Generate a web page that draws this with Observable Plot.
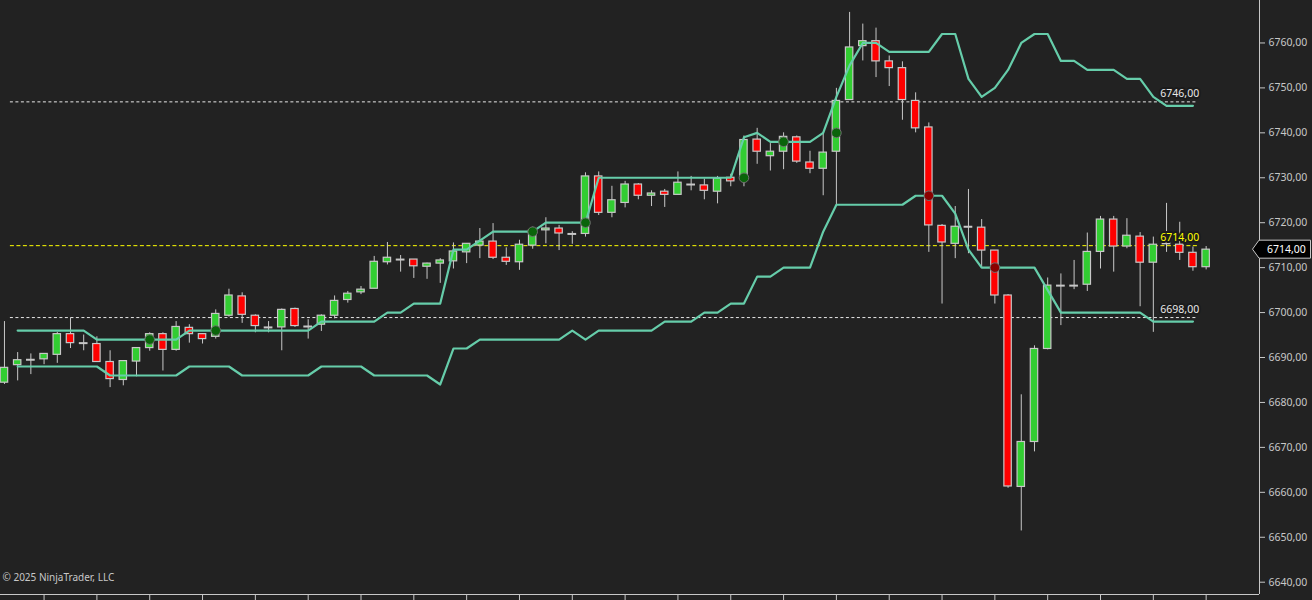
<!DOCTYPE html>
<html>
<head>
<meta charset="utf-8">
<script src="https://cdn.jsdelivr.net/npm/d3@7"></script>
<script src="https://cdn.jsdelivr.net/npm/@observablehq/plot@0.6"></script>
<style>
html, body { margin: 0; padding: 0; background: #222222; }
#chart { width: 1312px; height: 600px; overflow: hidden; }
</style>
</head>
<body>
<div id="chart"></div>
<script>
// ---- OHLC per bar (bar index 0..91) ----
const opens = [6684.4,6688.3,6689.5,6689.6,6690.6,6695.2,6693.2,6693,6689,6685,
6689.1,6692.1,6695.2,6691.7,6696.6,6695.2,6694.6,6699.3,6703.6,6699.3,
6696.7,6696.7,6700.8,6696.9,6697.3,6699.3,6702.8,6704.5,6705.3,6711.2,
6711.8,6711.8,6710.2,6710.9,6711.4,6713.4,6714.9,6715.8,6712.2,6711.2,
6714.9,6718.3,6718.7,6717.5,6717.5,6730.3,6722.2,6724.4,6728.5,6726,
6726.9,6726.2,6728.5,6728.3,6726.9,6730,6730.3,6738.5,6734.8,6735.8,
6739,6733.4,6732,6735.8,6747.3,6759.3,6760.4,6755.9,6754.4,6747.1,
6741.2,6719.3,6715.3,6719.1,6718.9,6713.8,6703.8,6661.2,6671.2,6691.9,
6706,6706,6706.2,6713.5,6720.7,6714.7,6716.9,6711.1,6715.4,6715.1,
6713.3,6710.1];
const highs = [6698,6691.1,6690.8,6690.8,6695.6,6698.8,6695,6694.6,6691.5,6689.2,
6692.1,6695.5,6695.5,6698,6697.3,6695.3,6700.6,6705.2,6704.4,6699.5,
6698,6700.8,6701,6698.4,6699.5,6703.7,6704.7,6705.8,6712.5,6715.6,
6712.7,6711.8,6711,6712,6715.5,6715.3,6718.7,6719.8,6714.4,6716.1,
6719,6721.1,6719.4,6718,6731.1,6731.3,6728.1,6729.2,6728.7,6727.1,
6727.4,6731.3,6730.3,6729.7,6730.3,6730.8,6739.3,6741,6737.6,6740,
6739.3,6735.9,6740.1,6749.9,6766.8,6764.2,6763.3,6757.1,6755.8,6748.9,
6742.2,6719.6,6723.6,6727.4,6720.7,6713.8,6704,6681.7,6692.6,6707.7,
6708.6,6711.6,6717.7,6721.4,6721.4,6720.9,6717.8,6716.8,6724.3,6720.1,
6714.6,6714.7];
const lows = [6684,6684.8,6686.2,6688.4,6688.7,6692,6691.5,6689,6683.3,6683.7,
6685.7,6691.4,6687,6691.4,6693.2,6693,6694.1,6699,6697.6,6695.5,
6695.5,6691.5,6696.7,6694.1,6695.8,6698.6,6702.1,6704,6705.3,6710.6,
6709,6707.6,6707.4,6706.5,6709.7,6710.9,6712,6711.8,6710.5,6709.4,
6714.1,6715.3,6713.8,6715.2,6716.8,6721.6,6721.1,6723.3,6725.1,6723.6,
6723.4,6726.2,6727.1,6725.1,6724.2,6728,6728,6733,6731.5,6731.8,
6733.2,6730.9,6726,6723.9,6747.3,6756,6752.3,6750.3,6742.8,6740,
6713.4,6701.9,6712,6713.1,6710,6701.9,6660.9,6651.4,6669,6691.7,
6697.1,6705.1,6704.7,6709.7,6709,6714.2,6701.3,6695.6,6713.4,6711.6,
6709.2,6709.5];
const closes = [6687.7,6689.4,6689.5,6690.8,6695.2,6693.2,6693.2,6689,6685.2,6689.2,
6692.1,6695.2,6691.7,6696.8,6695.2,6694.1,6699.7,6703.8,6699.5,6697,
6696.7,6700.6,6697,6696.9,6699.3,6702.6,6704.2,6705.1,6711.3,6712.2,
6711.8,6710.3,6710.9,6711.6,6713.6,6715.3,6715.8,6712.2,6711.3,6715.1,
6718.3,6718.7,6717.6,6717.5,6730.3,6722.2,6725,6728.5,6726,6726.5,
6726.2,6728.9,6728.5,6727.1,6729.8,6729.2,6738.4,6735.8,6735.8,6739.1,
6733.6,6732,6735.6,6747.1,6759,6760.4,6755.9,6754.4,6747.3,6741,
6719.4,6715.6,6719.1,6719.1,6713.8,6703.8,6661.3,6671.2,6691.9,6706,
6706,6706,6713.5,6720.7,6714.7,6717.1,6711.1,6715.1,6715.4,6713.3,
6710.1,6714];

// ---- channel indicator (per bar) ----
const upperBand = [null,
6696,6696,6696,6696,6696,6696,
6694,6694,6694,6694,6694,6694,6694,
6696,6696,6696,6696,6696,6696,6696,6696,6696,6696,
6698,6698,6698,6698,6698,
6700,6700,
6702,6702,6702,
6714,6714,
6716,
6718,6718,6718,6718,
6720,6720,6720,6720,
6730,6730,6730,6730,6730,6730,6730,6730,6730,6730,6730,
6739,
6740,
6738,6738,6738,6738,
6740,
6748,
6755,
6760,6760,
6758,6758,6758,6758,
6762,6762,
6752,
6748,
6750,
6754,
6760,
6762,6762,
6756,6756,
6754,6754,6754,
6752,6752,
6748,
6746,6746,6746,
null];
const lowerBand = [null,
6688,6688,6688,6688,6688,6688,6688,
6686,6686,6686,6686,6686,6686,
6688,6688,6688,6688,
6686,6686,6686,6686,6686,6686,
6688,6688,6688,6688,
6686,6686,6686,6686,6686,
6684,
6692,6692,
6694,6694,6694,6694,6694,6694,6694,
6696,
6694,
6696,6696,6696,6696,6696,
6698,6698,6698,
6700,6700,
6702,6702,
6708,6708,
6710,6710,6710,
6718,
6724,6724,6724,6724,6724,6724,
6726,6726,6726,
6722,
6714,
6710,6710,6710,6710,6710,
6705,
6700,6700,6700,6700,6700,6700,6700,
6698,6698,6698,6698,
null];

// ---- signal markers ----
const longSignalBars = [11, 16, 40, 44, 56, 59, 63];
const longSignalPrices = [6694, 6696, 6718, 6720, 6730, 6738, 6740];
const shortSignalBars = [70, 75];
const shortSignalPrices = [6726, 6710];

// ---- horizontal levels ----
const levelValues = [6746, 6714, 6698];
const levelLabels = ["6746,00", "6714,00", "6698,00"];
const levelColors = ["#e8e8e8", "#ffff00", "#e8e8e8"];
const levelDashes = ["3,2.5", "4,2.5", "3,2.5"];

// ---- axis ticks ----
const yTicks = [6640,6650,6660,6670,6680,6690,6700,6710,6720,6730,6740,6750,6760];
const xTickBars = d3.range(3, 92, 4);

const copyright = "© 2025 NinjaTrader, LLC";

// ---- build tables ----
const bars = opens.map((o, i) => ({i, open: o, high: highs[i], low: lows[i], close: closes[i]}));
const bodies = bars.filter(d => Math.abs(d.close - d.open) >= 0.15);
const dojis = bars.filter(d => Math.abs(d.close - d.open) < 0.15);
const upperData = upperBand.map((v, i) => ({i, v: v == null ? NaN : v}));
const lowerData = lowerBand.map((v, i) => ({i, v: v == null ? NaN : v}));
const longSignals = longSignalBars.map((b, k) => ({bar: b, price: longSignalPrices[k]}));
const shortSignals = shortSignalBars.map((b, k) => ({bar: b, price: shortSignalPrices[k]}));
const levels = levelValues.map((v, k) => ({v, label: levelLabels[k], color: levelColors[k], dash: levelDashes[k]}));
const lastClose = closes[closes.length - 1];
const lastBar = bars.length - 1;

const xDomain = [-0.3, 95.04];
const yDomain = [6637.26, 6769.45];
const fmt = d => d.toFixed(2).replace(".", ",");
const gray = "#c8c8c8";

function priceTag(index, scales, values, dims) {
  const y = scales.y(lastClose);
  const x0 = dims.width - dims.marginRight;
  const g = d3.create("svg:g");
  g.append("path")
    .attr("d", `M${x0 - 6.5},${y} L${x0},${y - 9} H${dims.width - 1.5} V${y + 9} H${x0} Z`)
    .attr("fill", "#000000")
    .attr("stroke", gray)
    .attr("stroke-width", 1);
  g.append("text")
    .attr("x", x0 + 8)
    .attr("y", y)
    .attr("dy", "0.36em")
    .attr("text-anchor", "start")
    .attr("fill", "#ffffff")
    .attr("font-size", 10.5)
    .text(fmt(lastClose));
  return g.node();
}

const levelMarks = levels.map(l =>
  Plot.ruleY([l], {y: "v", x1: () => 0.45, x2: () => lastBar - 0.65, stroke: l.color, strokeWidth: 1, strokeDasharray: l.dash, dy: -4})
);

const chart = Plot.plot({
  width: 1312,
  height: 600,
  marginLeft: 0,
  marginRight: 53,
  marginTop: 0,
  marginBottom: 6,
  style: {background: "#222222", color: gray, fontFamily: "'Noto Sans', 'Open Sans', sans-serif", fontSize: "10.5px"},
  x: {domain: xDomain},
  y: {domain: yDomain},
  color: {type: "identity"},
  marks: [
    ...levelMarks,
    // wicks
    Plot.ruleX(bars, {x: "i", y1: "low", y2: "high", stroke: gray, strokeWidth: 1}),
    // bodies
    Plot.rect(bodies, {
      x1: d => d.i - 0.5, x2: d => d.i + 0.5, y1: "open", y2: "close",
      insetLeft: 2.9, insetRight: 2.9,
      fill: d => d.close > d.open ? "#32cd32" : "#ff0000",
      stroke: gray, strokeWidth: 1.2
    }),
    Plot.ruleY(dojis, {y: "open", x1: d => d.i - 0.33, x2: d => d.i + 0.33, stroke: gray, strokeWidth: 2}),
    // channel
    Plot.line(upperData, {x: "i", y: "v", stroke: "#66cdaa", strokeWidth: 2.2}),
    Plot.line(lowerData, {x: "i", y: "v", stroke: "#66cdaa", strokeWidth: 2.2}),
    // signals
    Plot.dot(longSignals, {x: "bar", y: "price", r: 4.8, fill: "#0a640a", stroke: "#707070", strokeWidth: 1}),
    Plot.dot(shortSignals, {x: "bar", y: "price", r: 4.8, fill: "#8b0000", stroke: "#707070", strokeWidth: 1}),
    // level labels
    Plot.text(levels, {x: () => lastBar - 2, y: "v", text: "label", fill: "color", dy: -12, stroke: "#1b1b1b", strokeWidth: 4, fontSize: 10.5}),
    // axes frame lines
    Plot.ruleX([xDomain[1]], {stroke: gray, strokeWidth: 1}),
    Plot.ruleY([yDomain[0]], {stroke: gray, strokeWidth: 1}),
    Plot.axisY(yTicks, {anchor: "right", tickSize: 5, tickPadding: 4, tickFormat: fmt, fontSize: 10.5}),
    Plot.axisX(xTickBars, {anchor: "bottom", tickSize: 6, tickFormat: () => "", label: null}),
    // copyright
    Plot.text([copyright], {frameAnchor: "bottom-left", textAnchor: "start", dx: 2, dy: -14, fill: gray, fontSize: 10}),
    priceTag
  ]
});
document.getElementById("chart").appendChild(chart);
</script>
</body>
</html>
